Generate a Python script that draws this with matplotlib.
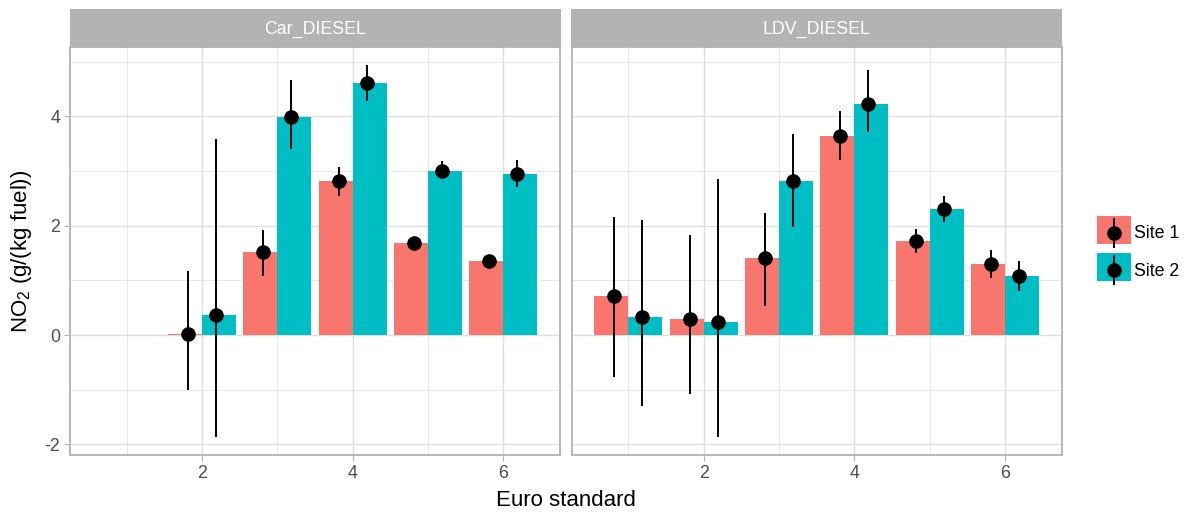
import numpy as np
import matplotlib
matplotlib.use("Agg")
import matplotlib.pyplot as plt
from matplotlib.patches import Rectangle

plt.rcParams['font.family'] = ['Liberation Sans', 'DejaVu Sans']
plt.rcParams['mathtext.fontset'] = 'custom'
plt.rcParams['mathtext.rm'] = 'Liberation Sans'
plt.rcParams['mathtext.it'] = 'Liberation Sans:italic'
plt.rcParams['axes.unicode_minus'] = False

# ---------------- data ----------------
panels = ["Car_DIESEL", "LDV_DIESEL"]
euro = np.array([1, 2, 3, 4, 5, 6])
sites = ["Site 1", "Site 2"]

car_site1 = [np.nan, 0.02, 1.51, 2.81, 1.68, 1.35]
car_site1_lo = [np.nan, -1.01, 1.085, 2.54, 1.62, 1.30]
car_site1_hi = [np.nan, 1.18, 1.93, 3.07, 1.74, 1.41]
car_site2 = [np.nan, 0.37, 3.99, 4.61, 3.01, 2.94]
car_site2_lo = [np.nan, -1.87, 3.40, 4.28, 2.87, 2.70]
car_site2_hi = [np.nan, 3.58, 4.67, 4.94, 3.18, 3.21]

ldv_site1 = [0.72, 0.29, 1.415, 3.635, 1.72, 1.30]
ldv_site1_lo = [-0.775, -1.086, 0.525, 3.20, 1.507, 1.043]
ldv_site1_hi = [2.153, 1.83, 2.232, 4.105, 1.933, 1.549]
ldv_site2 = [0.335, 0.244, 2.824, 4.233, 2.312, 1.086]
ldv_site2_lo = [-1.30, -1.866, 1.982, 3.708, 2.074, 0.799]
ldv_site2_hi = [2.10, 2.855, 3.684, 4.843, 2.543, 1.354]

data = {
    "Car_DIESEL": [(car_site1, car_site1_lo, car_site1_hi),
                   (car_site2, car_site2_lo, car_site2_hi)],
    "LDV_DIESEL": [(ldv_site1, ldv_site1_lo, ldv_site1_hi),
                   (ldv_site2, ldv_site2_lo, ldv_site2_hi)],
}

colors = ["#F8766D", "#00BFC4"]
grid_col = "#DEDEDE"
border_col = "#B3B3B3"
tick_txt = "#4D4D4D"

W, H = 1187, 514
fig = plt.figure(figsize=(W / 100, H / 100), dpi=100)

panel_left = [70, 571.7]
panel_w = 490
p_top, p_bot = 47.3, 455
strip_top = 9.3

bar_w = 0.45
pt_off = 0.1875

for i, name in enumerate(panels):
    x0 = panel_left[i]
    ax = fig.add_axes([x0 / W, 1 - p_bot / H, panel_w / W, (p_bot - p_top) / H])
    ax.set_xlim(0.248, 6.752)
    ax.set_ylim(-2.196, 5.265)
    ax.set_xticks([2, 4, 6])
    ax.set_xticks([1, 3, 5], minor=True)
    ax.set_yticks([-2, 0, 2, 4])
    ax.set_yticks([-1, 1, 3, 5], minor=True)
    ax.grid(True, which='major', color=grid_col, lw=1.0, zorder=0)
    ax.grid(True, which='minor', color=grid_col, lw=0.5, zorder=0)
    ax.set_axisbelow(True)
    for s in ax.spines.values():
        s.set_color(border_col)
        s.set_linewidth(1.3)
    ax.tick_params(which='major', length=4, width=0.8, color=border_col,
                   labelcolor=tick_txt, labelsize=12.8, pad=3)
    ax.tick_params(which='minor', length=0)
    if i == 1:
        ax.tick_params(axis='y', which='major', length=0, labelleft=False)

    for j, (vals, lo, hi) in enumerate(data[name]):
        vals = np.array(vals, dtype=float)
        lo = np.array(lo, dtype=float)
        hi = np.array(hi, dtype=float)
        sign = -1 if j == 0 else 1
        ax.bar(euro + sign * bar_w / 2, vals, width=bar_w, color=colors[j],
               edgecolor='none', zorder=2)
        xp = euro + sign * pt_off
        ax.vlines(xp, lo, hi, colors='black', lw=1.4, zorder=3)
        ax.plot(xp, vals, 'o', color='black', ms=9.5, zorder=4)

# overlay for strips, titles, legend (pixel coordinates)
ov = fig.add_axes([0, 0, 1, 1])
ov.set_xlim(0, W)
ov.set_ylim(H, 0)
ov.axis('off')
ov.patch.set_alpha(0)

for i, name in enumerate(panels):
    x0 = panel_left[i]
    ov.add_patch(Rectangle((x0 - 0.5, strip_top), panel_w + 1, p_top - strip_top,
                           facecolor="#B3B3B3", edgecolor='none'))
    ov.text(x0 + panel_w / 2, (strip_top + p_top) / 2 + 1, name, color='white',
            fontsize=12.8, ha='center', va='center')

ov.text((panel_left[0] + panel_left[1] + panel_w) / 2, 500, "Euro standard",
        fontsize=16, ha='center', va='center', color='black')
ov.text(22, (p_top + p_bot) / 2, r"NO$_2$ (g/(kg fuel))", fontsize=16,
        ha='center', va='center', rotation=90, color='black')

# legend
key_y = [216, 253]
for j, s in enumerate(sites):
    y0 = key_y[j]
    ov.add_patch(Rectangle((1097, y0), 34, 27.5, facecolor=colors[j], edgecolor='none'))
    ov.plot([1114.3, 1114.3], [y0 + 3, y0 + 31], color='black', lw=1.4)
    ov.plot([1114.3], [y0 + 16.5], 'o', color='black', ms=9.5)
    ov.text(1134, y0 + 18, s, fontsize=12.8, ha='left', va='center', color='black')

fig.savefig("out.png", dpi=100)
